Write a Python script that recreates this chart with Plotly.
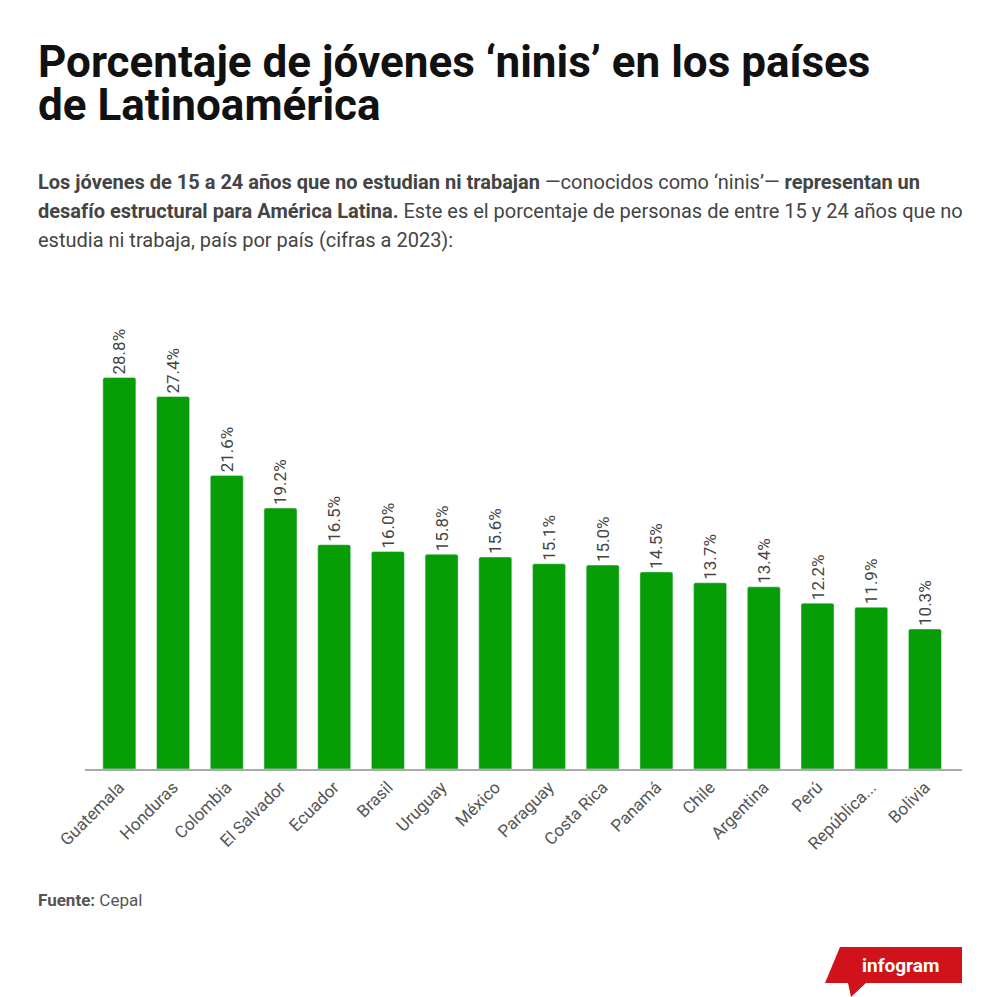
import plotly.graph_objects as go

paises = ["Guatemala", "Honduras", "Colombia", "El Salvador", "Ecuador", "Brasil",
          "Uruguay", "México", "Paraguay", "Costa Rica", "Panamá", "Chile",
          "Argentina", "Perú", "República Dominicana", "Bolivia"]
etiquetas = ["Guatemala", "Honduras", "Colombia", "El Salvador", "Ecuador", "Brasil",
             "Uruguay", "México", "Paraguay", "Costa Rica", "Panamá", "Chile",
             "Argentina", "Perú", "República...", "Bolivia"]
ninis = [28.8, 27.4, 21.6, 19.2, 16.5, 16.0, 15.8, 15.6, 15.1, 15.0, 14.5, 13.7,
         13.4, 12.2, 11.9, 10.3]

# la página deja 8px de margen en el body
OFF = 8
W, H = 1000 - OFF, 997 - OFF
L, R, T, B = 85 - OFF, 38, 334 - OFF, 228
pw, ph = W - L - R, H - T - B


def px(x):
    return (x - OFF - L) / pw


def py(y):
    return (H - B - (y - OFF)) / ph


fig = go.Figure([
    go.Bar(x=paises, y=ninis,
           marker=dict(color="#079d07", cornerradius=2),
           text=[f"{v:.1f}%" for v in ninis],
           textposition="outside", textangle=-90, constraintext="none",
           textfont=dict(family="Roboto", size=17, color="#444"),
           cliponaxis=False, hoverinfo="skip")
])

fig.update_layout(
    width=W, height=H,
    margin=dict(l=L, r=R, t=T, b=B, pad=0),
    paper_bgcolor="white", plot_bgcolor="white",
    showlegend=False, bargap=0.385,
    font=dict(family="Roboto", color="#333"),
)
fig.update_xaxes(tickmode="array", tickvals=paises, ticktext=etiquetas,
                 tickangle=-45, tickfont=dict(size=17, color="#555"),
                 showline=True, linecolor="#aaa", linewidth=1.5,
                 showgrid=False, ticks="", range=[-0.64, 15.69])
fig.update_yaxes(range=[0, 32], visible=False)

titulo = ["Porcentaje de jóvenes ‘ninis’ en los países", "de Latinoamérica"]
for i, linea in enumerate(titulo):
    fig.add_annotation(text=f"<b>{linea}</b>", xref="paper", yref="paper",
                       x=px(36), y=py(62 + 43 * i), xanchor="left", yanchor="middle",
                       showarrow=False, font=dict(family="Roboto", size=44, color="#111"))

subtitulo = [
    "<b>Los jóvenes de 15 a 24 años que no estudian ni trabajan</b> —conocidos como ‘ninis’— <b>representan un</b>",
    "<b>desafío estructural para América Latina.</b> Este es el porcentaje de personas de entre 15 y 24 años que no",
    "estudia ni trabaja, país por país (cifras a 2023):",
]
for i, linea in enumerate(subtitulo):
    fig.add_annotation(text=linea, xref="paper", yref="paper",
                       x=px(36), y=py(182 + 29 * i), xanchor="left", yanchor="middle",
                       showarrow=False, font=dict(family="Roboto", size=20, color="#444"))

fig.add_annotation(text="<b>Fuente:</b> Cepal", xref="paper", yref="paper",
                   x=px(36), y=py(900), xanchor="left", yanchor="middle",
                   showarrow=False, font=dict(family="Roboto", size=17, color="#555"))

# logo infogram
pts = [(840, 947), (962, 947), (962, 983), (866, 983), (851, 997), (848, 983), (825, 983)]
path = "M " + " L ".join(f"{px(a)},{py(b)}" for a, b in pts) + " Z"
fig.add_shape(type="path", path=path, xref="paper", yref="paper",
              fillcolor="#d0121b", line=dict(width=0))
fig.add_annotation(text="<b>infogram</b>", xref="paper", yref="paper",
                   x=px(900), y=py(965), xanchor="center", yanchor="middle",
                   showarrow=False, font=dict(family="Roboto", size=19, color="white"))

fig.write_html("out.html")
